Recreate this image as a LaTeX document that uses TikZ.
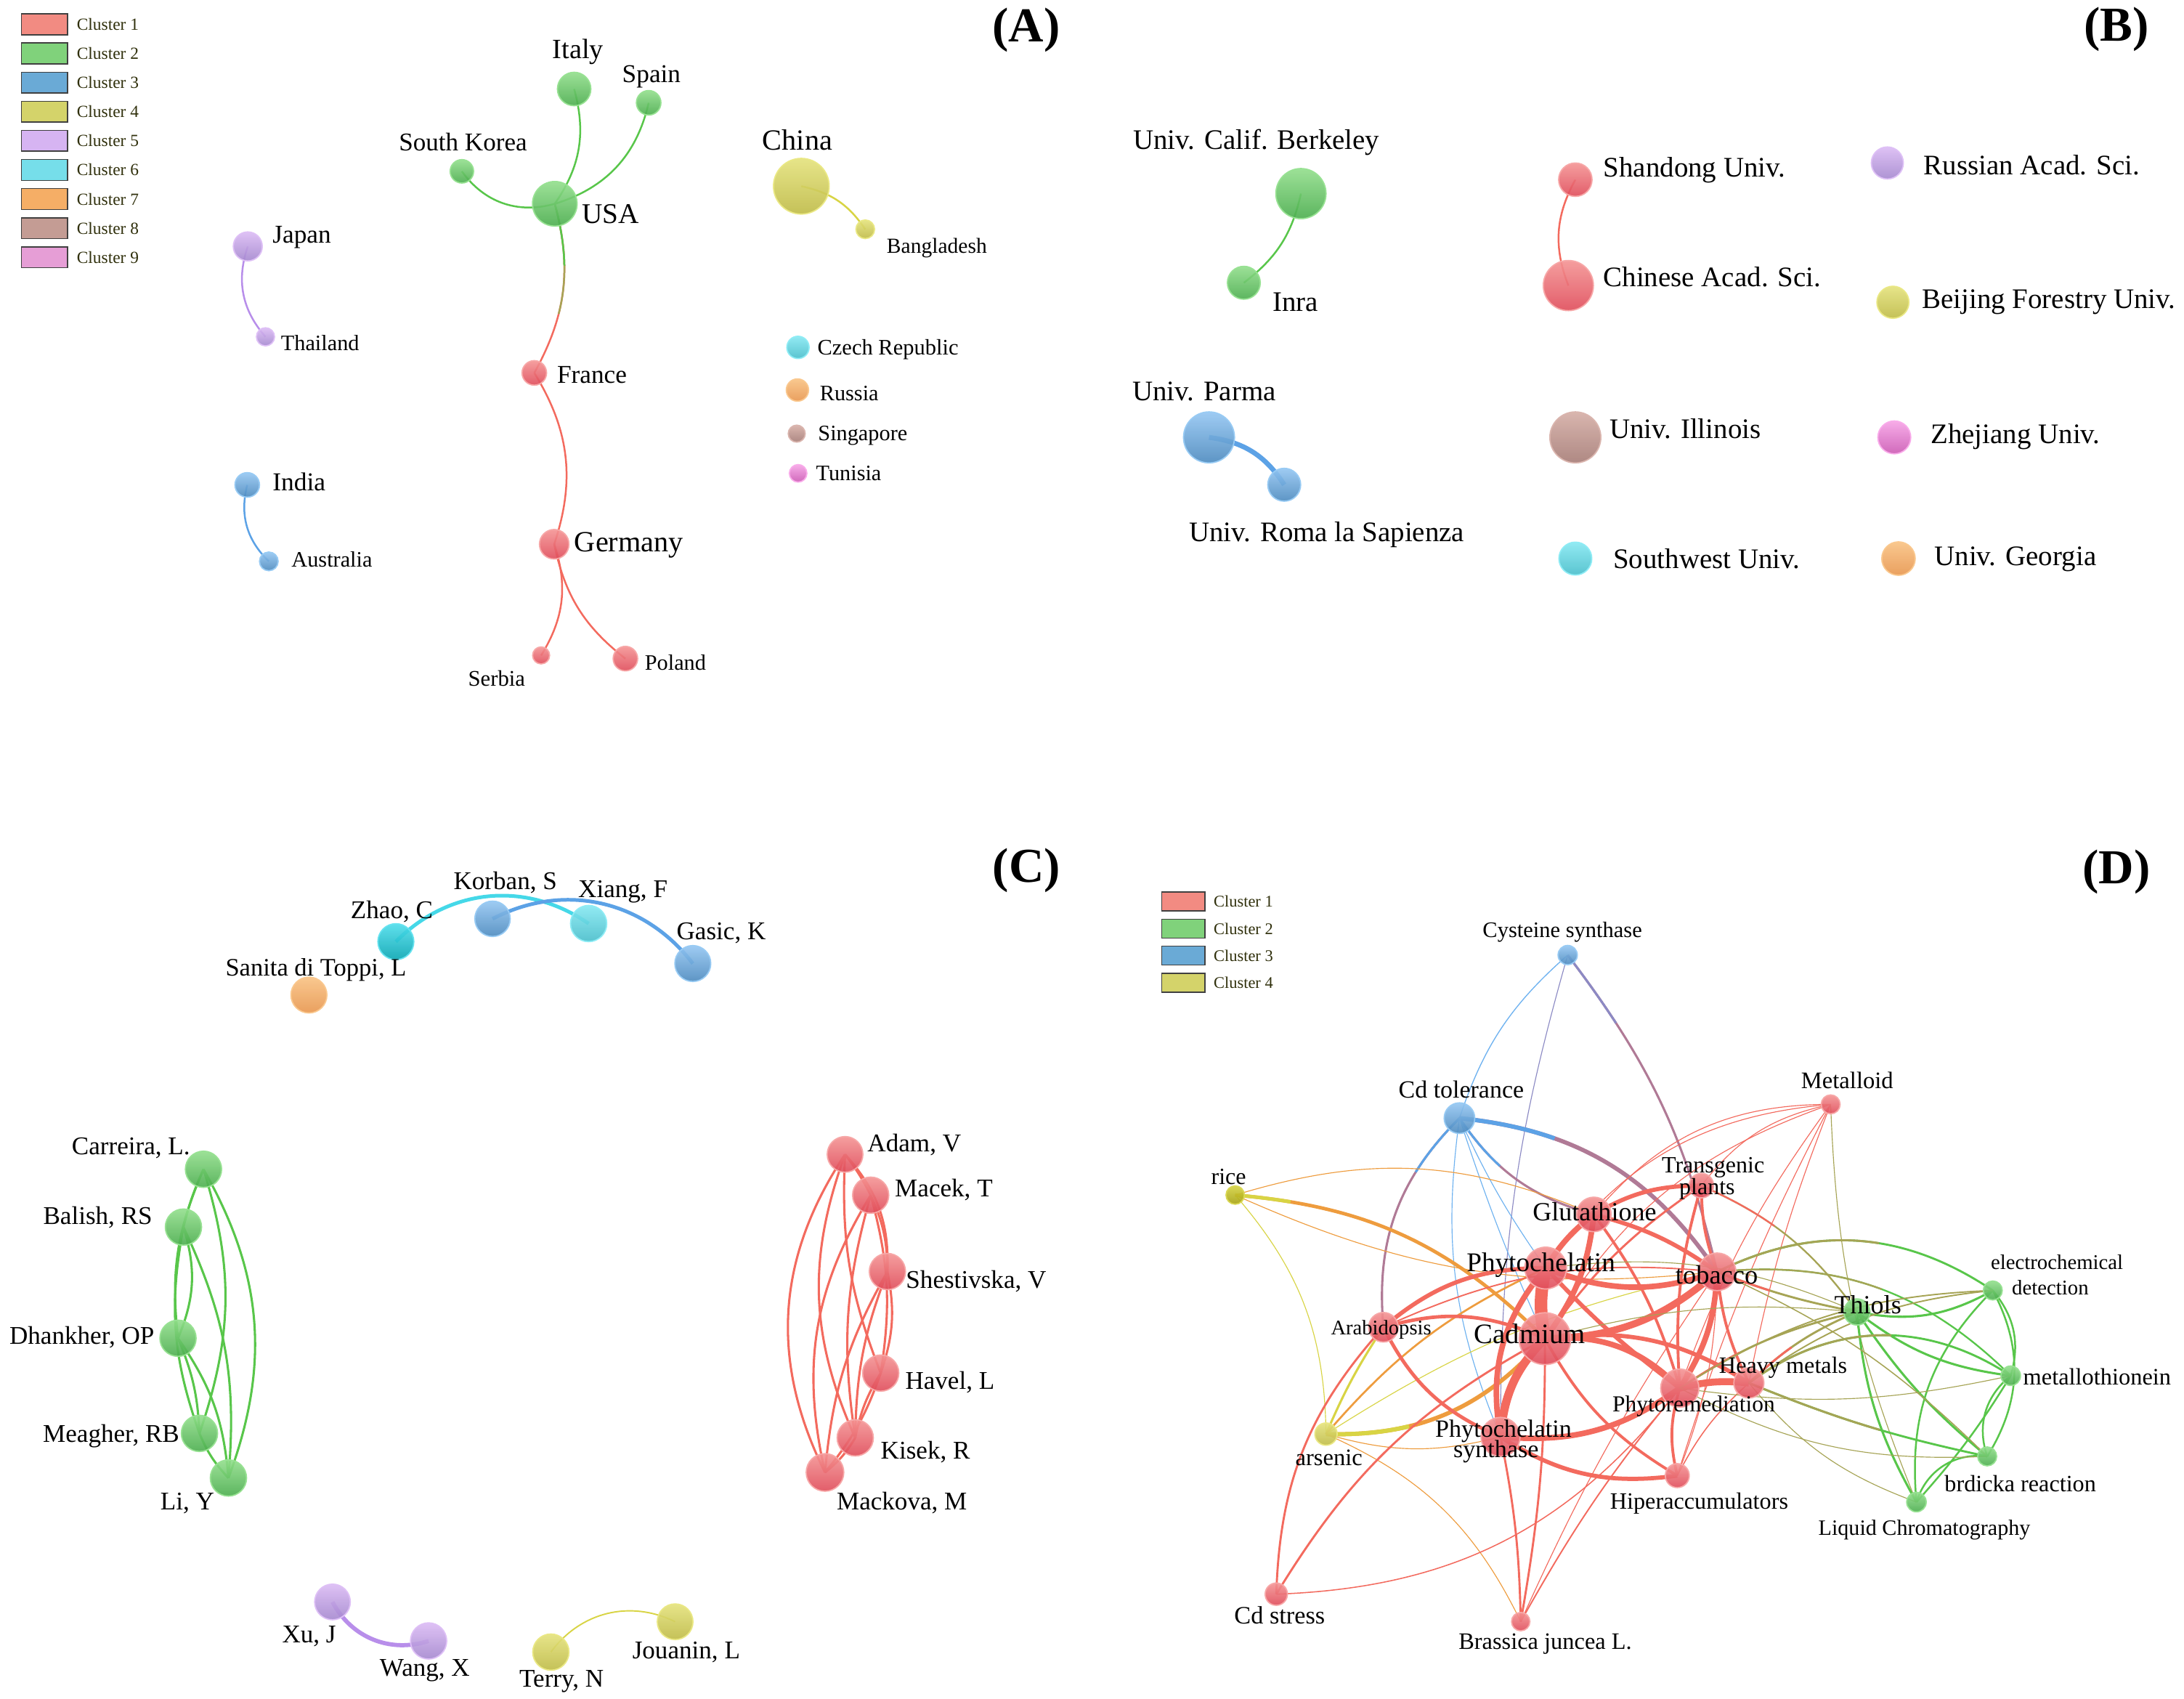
\documentclass[tikz,border=0pt]{standalone}
\usepackage{fontspec}
\setmainfont{Liberation Serif}
\pgfdeclarelayer{bg}
\pgfdeclarelayer{edges}
\pgfsetlayers{bg,edges,main}
% node colours
\definecolor{rT}{HTML}{F49494}\definecolor{rB}{HTML}{E04C5A}\definecolor{rE}{HTML}{F7A8A8}
\definecolor{gT}{HTML}{92DE8C}\definecolor{gB}{HTML}{4BAE4E}\definecolor{gE}{HTML}{98E293}
\definecolor{bT}{HTML}{94C6F2}\definecolor{bB}{HTML}{4C8ABF}\definecolor{bE}{HTML}{98CBF4}
\definecolor{yT}{HTML}{E4E27C}\definecolor{yB}{HTML}{BFBB46}\definecolor{yE}{HTML}{EAE884}
\definecolor{pT}{HTML}{DBBBF4}\definecolor{pB}{HTML}{A588CF}\definecolor{pE}{HTML}{DEC0F6}
\definecolor{cT}{HTML}{86E8F2}\definecolor{cB}{HTML}{48BECB}\definecolor{cE}{HTML}{8EECF5}
\definecolor{dcT}{HTML}{4EDDEB}\definecolor{dcB}{HTML}{08A6B3}\definecolor{dcE}{HTML}{66E3F0}
\definecolor{oT}{HTML}{F9C283}\definecolor{oB}{HTML}{E8964E}\definecolor{oE}{HTML}{FAC88E}
\definecolor{brT}{HTML}{D5AEA6}\definecolor{brB}{HTML}{A67C76}\definecolor{brE}{HTML}{DAB5AE}
\definecolor{pkT}{HTML}{F6A3E6}\definecolor{pkB}{HTML}{CC5AB4}\definecolor{pkE}{HTML}{F9ABEA}
\definecolor{riT}{HTML}{D4D242}\definecolor{riB}{HTML}{A6A210}\definecolor{riE}{HTML}{DAD855}
% edge colours
\definecolor{eRed}{HTML}{F36A5E}\definecolor{eGreen}{HTML}{58C64A}\definecolor{eBlue}{HTML}{5CA2E6}
\definecolor{eCyan}{HTML}{45D8E8}\definecolor{ePur}{HTML}{B88EEA}\definecolor{eYel}{HTML}{D8D444}
\definecolor{eOr}{HTML}{EE9C3E}\definecolor{eOl}{HTML}{A6A455}\definecolor{eBP}{HTML}{8C8AC4}
\definecolor{ePR}{HTML}{B07A96}\definecolor{eLB}{HTML}{6EB2F0}
% legend colours
\definecolor{Lone}{HTML}{F28B82}\definecolor{Ltwo}{HTML}{80D27B}\definecolor{Lthree}{HTML}{6AAAD6}
\definecolor{Lfour}{HTML}{D4D36A}\definecolor{Lfive}{HTML}{D6B4F2}\definecolor{Lsix}{HTML}{76DEEA}
\definecolor{Lseven}{HTML}{F5AE66}\definecolor{Leight}{HTML}{C49C94}\definecolor{Lnine}{HTML}{E69ED6}
\definecolor{legtext}{HTML}{30300C}
\newcommand\fs[1]{\fontsize{#1}{#1}\selectfont}
\newcommand\conn[4]{\draw[#1] (#2.center) to[#3] (#4.center);}
% gradient-like connector: colour1 for first #3 pt, colour2 after
\newcommand\gconn[7]{\draw[draw=#2,line width=#4] (#5.center) to[#6] (#7.center);
  \draw[draw=#1,line width=#4,dash pattern=on #3pt off 3000pt] (#5.center) to[#6] (#7.center);}
\begin{document}
\begin{tikzpicture}[x=1pt,y=-1pt,
  bub/.style={circle,inner sep=0pt,minimum size=2*#1,line width=0.9pt,fill opacity=0.9},
  nred/.style={bub=#1,top color=rT,bottom color=rB,draw=rE},
  ngreen/.style={bub=#1,top color=gT,bottom color=gB,draw=gE},
  nblue/.style={bub=#1,top color=bT,bottom color=bB,draw=bE},
  nyel/.style={bub=#1,top color=yT,bottom color=yB,draw=yE},
  npur/.style={bub=#1,top color=pT,bottom color=pB,draw=pE},
  ncyan/.style={bub=#1,top color=cT,bottom color=cB,draw=cE},
  ndcyan/.style={bub=#1,top color=dcT,bottom color=dcB,draw=dcE},
  norange/.style={bub=#1,top color=oT,bottom color=oB,draw=oE},
  nbrown/.style={bub=#1,top color=brT,bottom color=brB,draw=brE},
  npink/.style={bub=#1,top color=pkT,bottom color=pkB,draw=pkE},
  nrice/.style={bub=#1,top color=riT,bottom color=riB,draw=riE},
  lab/.style={inner sep=0pt,font=\fs{#1},text=black},
  panel/.style={inner sep=0pt,font=\fs{35}\bfseries,text=black},
  legbox/.style={draw=black!75,line width=0.8pt,minimum width=33pt,minimum height=15pt,inner sep=0pt},
  legboxD/.style={draw=black!75,line width=0.8pt,minimum width=31pt,minimum height=13.6pt,inner sep=0pt},
  legtxt/.style={inner sep=0pt,anchor=west,font=\fs{#1},text=legtext},
  redE/.style={draw=eRed,line width=#1},
  greenE/.style={draw=eGreen,line width=#1},
  blueE/.style={draw=eBlue,line width=#1},
  lblueE/.style={draw=eLB,line width=#1},
  cyanE/.style={draw=eCyan,line width=#1},
  purE/.style={draw=ePur,line width=#1},
  yelE/.style={draw=eYel,line width=#1},
  orE/.style={draw=eOr,line width=#1},
  olE/.style={draw=eOl,line width=#1},
  bpE/.style={draw=eBP,line width=#1},
  prE/.style={draw=ePR,line width=#1}
]
\useasboundingbox (0,0) rectangle (1568,1219.6);
\begin{pgfonlayer}{bg}
\fill[white] (0,0) rectangle (1568,1219.6);
\end{pgfonlayer}

% ================= Panel A =================
\foreach \i/\c in {1/Lone,2/Ltwo,3/Lthree,4/Lfour,5/Lfive,6/Lsix,7/Lseven,8/Leight,9/Lnine}{
  \node[legbox,fill=\c] (la\i) at (32,{17.5+20.9*(\i-1)}) {};
  \node[legtxt=12.2] (lat\i) at (55,{17.5+20.9*(\i-1)}) {Cluster \i};
}
\node[panel] (pA) at (736.9,21.6) {(A)};

\node[ngreen=12] (italy) at (412.2,63.9) {};
\node[ngreen=8.8] (spain) at (465.7,73.8) {};
\node[ngreen=8.4] (skorea) at (331.6,123) {};
\node[ngreen=16] (usa) at (398.3,146.3) {};
\node[nyel=20] (china) at (575.3,133.7) {};
\node[nyel=6.7] (bangl) at (621.2,164.6) {};
\node[npur=10.4] (japan) at (177.9,176.9) {};
\node[npur=6.5] (thai) at (190.6,241.8) {};
\node[nred=8.8] (france) at (383.6,267.7) {};
\node[nblue=8.8] (india) at (177.5,348.1) {};
\node[nblue=6.7] (austr) at (193,403) {};
\node[nred=10.6] (germany) at (397.9,390.7) {};
\node[nred=6.1] (serbia) at (388.5,470.5) {};
\node[nred=8.8] (poland) at (449,472.8) {};
\node[ncyan=8] (czech) at (572.9,249.4) {};
\node[norange=8] (russia) at (572.5,280) {};
\node[nbrown=6.1] (singa) at (572,311.3) {};
\node[npink=6.3] (tunis) at (573,339.8) {};

\node[lab=20] (tItaly) at (415,37.2) {Italy};
\node[lab=18.4] (tSpain) at (467.7,55) {Spain};
\node[lab=18.3] (tSK) at (332.4,102) {South Korea};
\node[lab=20.5] (tUSA) at (438.4,153.6) {USA};
\node[lab=21] (tChina) at (572.5,100.4) {China};
\node[lab=15.4] (tBangl) at (672.6,177.9) {Bangladesh};
\node[lab=18.4] (tJapan) at (216.7,170.2) {Japan};
\node[lab=15.8] (tThai) at (229.8,246) {Thailand};
\node[lab=18.4] (tFrance) at (425,269.3) {France};
\node[lab=18.5] (tIndia) at (214.7,345.8) {India};
\node[lab=15.8] (tAustr) at (238.3,401.4) {Australia};
\node[lab=21] (tGermany) at (451.5,391.4) {Germany};
\node[lab=16] (tSerbia) at (356.6,487) {Serbia};
\node[lab=15.8] (tPoland) at (484.9,475.5) {Poland};
\node[lab=15.9] (tCzech) at (637.5,251) {Czech Republic};
\node[lab=15.8] (tRussia) at (609.7,282.6) {Russia};
\node[lab=15.8] (tSinga) at (619.4,312.5) {Singapore};
\node[lab=15.8] (tTunis) at (609.3,339.8) {Tunisia};

\begin{pgfonlayer}{edges}
\conn{greenE=1.3}{usa}{bend right=25}{italy}
\conn{greenE=1.3}{usa}{bend right=30}{spain}
\conn{greenE=1.3}{usa}{bend left=35}{skorea}
\draw[redE=1.3] (usa.center) to[bend left=22] (france.center);
\draw[draw=eOl,line width=1.3pt,dash pattern=on 80pt off 3000pt] (usa.center) to[bend left=22] (france.center);
\draw[draw=eGreen,line width=1.3pt,dash pattern=on 45pt off 3000pt] (usa.center) to[bend left=22] (france.center);
\conn{redE=1.3}{france}{bend left=25}{germany}
\conn{redE=1.3}{germany}{bend left=25}{serbia}
\conn{redE=1.3}{germany}{bend right=20}{poland}
\conn{purE=1.3}{japan}{bend right=30}{thai}
\conn{blueE=1.3}{india}{bend right=30}{austr}
\conn{yelE=1.3}{china}{bend left=22}{bangl}
\end{pgfonlayer}

% ================= Panel B =================
\node[panel] (pB) at (1519.5,21.2) {(B)};
\node[ngreen=18] (berk) at (934,139) {};
\node[ngreen=11.8] (inra) at (893,203) {};
\node[nred=12] (shand) at (1131,129) {};
\node[nred=18] (cas) at (1126,205) {};
\node[npur=11.5] (ras) at (1355,117) {};
\node[nyel=11.5] (bfu) at (1359,217) {};
\node[nblue=18.3] (parma) at (868,314) {};
\node[nblue=11.8] (roma) at (922,348) {};
\node[nbrown=18.3] (illin) at (1131,314) {};
\node[npink=11.8] (zhej) at (1360,314) {};
\node[ncyan=11.8] (swu) at (1131,401) {};
\node[norange=12] (ugeo) at (1363,401) {};

\node[lab=20.3] (tBerk) at (902,102.3) {Univ. Calif. Berkeley};
\node[lab=20.3] (tInra) at (930,217) {Inra};
\node[lab=20.3,anchor=west] (tShand) at (1151,122) {Shandong Univ.};
\node[lab=20.3,anchor=west] (tCas) at (1151,198.7) {Chinese Acad. Sci.};
\node[lab=20.3,anchor=west] (tRas) at (1381,118.7) {Russian Acad. Sci.};
\node[lab=20.3,anchor=west] (tBfu) at (1379.8,217) {Beijing Forestry Univ.};
\node[lab=20.3] (tParma) at (864.5,281) {Univ. Parma};
\node[lab=20.3] (tRoma) at (952.5,383.8) {Univ. Roma la Sapienza};
\node[lab=20.3,anchor=west] (tIllin) at (1155.4,308) {Univ. Illinois};
\node[lab=20.3,anchor=west] (tZhej) at (1386,313.7) {Zhejiang Univ.};
\node[lab=20.3,anchor=west] (tSwu) at (1158,401.3) {Southwest Univ.};
\node[lab=20.3,anchor=west] (tUgeo) at (1388.7,401.3) {Univ. Georgia};

\begin{pgfonlayer}{edges}
\conn{greenE=1.3}{berk}{bend left=20}{inra}
\conn{redE=1.3}{shand}{bend right=25}{cas}
\conn{blueE=3.5}{parma}{bend left=25}{roma}
\end{pgfonlayer}

% ================= Panel C =================
\node[panel] (pC) at (737,624.8) {(C)};
\node[ndcyan=12.9] (zhao) at (284.2,676) {};
\node[nblue=12.7] (korban) at (353.6,659.6) {};
\node[ncyan=13] (xiang) at (422.6,663) {};
\node[nblue=12.9] (gasic) at (497.4,691.7) {};
\node[norange=12.9] (sanita) at (221.8,714.3) {};
\node[lab=18.3] (tZhao) at (281.3,654.3) {Zhao, C};
\node[lab=18.3] (tKorban) at (362.8,633.5) {Korban, S};
\node[lab=18.3] (tXiang) at (447.2,640.4) {Xiang, F};
\node[lab=18.3] (tGasic) at (517.8,670) {Gasic, K};
\node[lab=18] (tSanita) at (226.8,696) {Sanita di Toppi, L};

\node[ngreen=13] (carr) at (146.1,839.4) {};
\node[ngreen=13] (bal) at (131.7,880.9) {};
\node[ngreen=13] (dhan) at (127.8,960.7) {};
\node[ngreen=13] (meag) at (143.2,1029) {};
\node[ngreen=13] (liy) at (164,1061) {};
\node[lab=18.3] (tCarr) at (94,824.2) {Carreira, L.};
\node[lab=18.3] (tBal) at (70.2,874.2) {Balish, RS};
\node[lab=18.3] (tDhan) at (58.8,959.8) {Dhankher, OP};
\node[lab=18.3] (tMeag) at (79.8,1031.2) {Meagher, RB};
\node[lab=18.3] (tLiy) at (134.5,1079) {Li, Y};

\node[nred=12.8] (adam) at (606.7,828.7) {};
\node[nred=13] (macek) at (625.1,858) {};
\node[nred=13] (shest) at (637.1,912.8) {};
\node[nred=13] (havel) at (632.3,985.7) {};
\node[nred=13] (kisek) at (614,1032.2) {};
\node[nred=13.5] (mack) at (592.3,1057) {};
\node[lab=18.3] (tAdam) at (656.4,822) {Adam, V};
\node[lab=18.3] (tMacek) at (677.6,854) {Macek, T};
\node[lab=18.3] (tShest) at (700.8,920) {Shestivska, V};
\node[lab=18.3] (tHavel) at (682,992.2) {Havel, L};
\node[lab=18.3] (tKisek) at (664.4,1042.3) {Kisek, R};
\node[lab=18.3] (tMack) at (647.5,1079) {Mackova, M};

\node[npur=12.8] (xuj) at (238.7,1150) {};
\node[npur=13] (wangx) at (307.7,1178) {};
\node[nyel=13] (terry) at (395.5,1186) {};
\node[nyel=12.8] (jouan) at (484.7,1164.2) {};
\node[lab=18.3] (tXuj) at (221.9,1174.8) {Xu, J};
\node[lab=18.3] (tWangx) at (305,1199.3) {Wang, X};
\node[lab=18.3] (tTerry) at (403.2,1207.2) {Terry, N};
\node[lab=18.3] (tJouan) at (492.7,1186) {Jouanin, L};

\begin{pgfonlayer}{edges}
\conn{cyanE=2.6}{zhao}{bend left=40}{xiang}
\conn{blueE=2.6}{korban}{bend left=40}{gasic}
\conn{purE=3}{xuj}{bend right=40}{wangx}
\conn{yelE=1}{terry}{bend left=40}{jouan}
% green complete graph
\conn{greenE=1.6}{carr}{bend right=5}{bal}
\conn{greenE=1.6}{carr}{bend right=15}{dhan}
\conn{greenE=1.6}{carr}{bend left=18}{meag}
\conn{greenE=1.6}{carr}{bend left=25}{liy}
\conn{greenE=1.6}{bal}{bend left=20}{dhan}
\conn{greenE=1.6}{bal}{bend right=15}{meag}
\conn{greenE=1.6}{bal}{bend left=15}{liy}
\conn{greenE=1.6}{dhan}{bend left=10}{meag}
\conn{greenE=1.6}{dhan}{bend left=15}{liy}
\conn{greenE=1.6}{meag}{bend right=10}{liy}
% red complete graph
\conn{redE=1.6}{adam}{bend left=5}{macek}
\conn{redE=1.6}{adam}{bend left=22}{shest}
\conn{redE=1.6}{adam}{bend right=12}{havel}
\conn{redE=1.6}{adam}{bend right=22}{kisek}
\conn{redE=1.6}{adam}{bend right=30}{mack}
\conn{redE=1.6}{macek}{bend left=12}{shest}
\conn{redE=1.6}{macek}{bend left=12}{havel}
\conn{redE=1.6}{macek}{bend right=12}{kisek}
\conn{redE=1.6}{macek}{bend right=22}{mack}
\conn{redE=1.6}{shest}{bend left=15}{havel}
\conn{redE=1.6}{shest}{bend right=10}{kisek}
\conn{redE=1.6}{shest}{bend right=12}{mack}
\conn{redE=1.6}{havel}{bend right=10}{kisek}
\conn{redE=1.6}{havel}{bend left=10}{mack}
\conn{redE=1.6}{kisek}{bend left=10}{mack}
\end{pgfonlayer}

% ================= Panel D =================
\node[panel] (pD) at (1519.5,626) {(D)};
\foreach \i/\c in {1/Lone,2/Ltwo,3/Lthree,4/Lfour}{
  \node[legboxD,fill=\c] (ld\i) at (849.6,{647.2+19.4*(\i-1)}) {};
  \node[legtxt=11.7] (ldt\i) at (871.2,{647.2+19.4*(\i-1)}) {Cluster \i};
}
\node[nblue=6.9] (cys) at (1125.5,685.6) {};
\node[nblue=11] (cdt) at (1047.8,802.7) {};
\node[nred=6.8] (met) at (1314.3,792.8) {};
\node[nrice=6.6] (rice) at (886.8,857.9) {};
\node[nred=8.8] (tra) at (1221.5,851.1) {};
\node[nred=12.4] (glu) at (1144.3,871.8) {};
\node[nred=15] (phy) at (1109.7,910.3) {};
\node[nred=13.5] (tob) at (1232.8,913) {};
\node[nred=10.6] (ara) at (993.2,952.8) {};
\node[nred=18.6] (cad) at (1109.2,961) {};
\node[ngreen=9.4] (thi) at (1333.2,941.8) {};
\node[ngreen=6.8] (ele) at (1430.7,926.4) {};
\node[nred=10.8] (hm) at (1255.6,992.8) {};
\node[nred=13.7] (pre) at (1206,996.5) {};
\node[ngreen=7] (mtn) at (1443.6,987.6) {};
\node[nred=14] (pcs) at (1077.3,1031.5) {};
\node[nyel=8] (ars) at (952,1029.5) {};
\node[nred=8.6] (hip) at (1204.2,1059.3) {};
\node[ngreen=6.8] (brd) at (1426.7,1045.5) {};
\node[ngreen=7] (lc) at (1375.9,1078.3) {};
\node[nred=8] (cds) at (916.3,1144.4) {};
\node[nred=6.6] (bra) at (1091.8,1164.1) {};

\begin{pgfonlayer}{edges}
% blue cluster
\conn{lblueE=0.7}{cys}{bend right=15}{cdt}
\gconn{eBP}{ePR}{60}{1.6pt}{cys}{bend left=12}{tob}
\conn{bpE=0.6}{cys}{bend right=8}{pcs}
\gconn{eBlue}{ePR}{70}{3pt}{cdt}{bend left=25}{tob}
\gconn{eBlue}{ePR}{45}{1.6pt}{cdt}{bend right=20}{glu}
\gconn{eBlue}{ePR}{50}{1.6pt}{cdt}{bend right=25}{ara}
\conn{lblueE=0.6}{cdt}{bend right=5}{phy}
\conn{lblueE=0.6}{cdt}{bend right=3}{cad}
\conn{lblueE=0.6}{cdt}{bend right=15}{pcs}
% yellow cluster
\gconn{eYel}{eOr}{40}{2.5pt}{rice}{bend left=20}{cad}
\conn{yelE=0.6}{rice}{bend left=20}{ars}
\conn{orE=0.6}{rice}{bend left=20}{glu}
\conn{orE=0.6}{rice}{bend right=15}{tob}
\gconn{eYel}{eOr}{60}{3pt}{ars}{bend right=25}{cad}
\conn{yelE=1.6}{ars}{bend left=5}{ara}
\conn{orE=1.4}{ars}{bend left=12}{phy}
\conn{orE=0.6}{ars}{bend right=15}{pcs}
\conn{orE=0.6}{ars}{bend left=20}{bra}
\conn{yelE=0.6}{ars}{bend left=10}{tob}
% red cluster
\conn{redE=9}{cad}{bend left=12}{phy}
\conn{redE=4}{cad}{bend right=15}{glu}
\conn{redE=5}{cad}{bend right=20}{tob}
\conn{redE=4}{cad}{bend left=25}{pre}
\conn{redE=6}{cad}{bend right=20}{pcs}
\conn{redE=4}{phy}{bend right=25}{pcs}
\conn{redE=4}{phy}{bend left=10}{glu}
\conn{redE=4}{phy}{bend right=20}{tob}
\conn{redE=3}{glu}{bend left=10}{tob}
\conn{redE=3}{glu}{bend left=15}{tra}
\conn{redE=2}{tob}{bend left=10}{tra}
\conn{redE=4}{tob}{bend left=15}{pre}
\conn{redE=5}{pre}{bend left=10}{hm}
\conn{redE=4}{pcs}{bend right=20}{pre}
\conn{redE=3}{cad}{bend left=20}{hm}
\conn{redE=2.5}{ara}{bend left=20}{cad}
\conn{redE=3}{ara}{bend left=20}{phy}
\conn{redE=2}{glu}{bend left=10}{pre}
\conn{redE=3}{phy}{bend right=5}{pre}
\conn{redE=2}{tob}{bend right=10}{hm}
\conn{redE=2}{pre}{bend right=15}{hip}
\conn{redE=3}{pcs}{bend right=20}{hip}
\conn{redE=2}{cad}{bend right=15}{hip}
\conn{redE=2.5}{ara}{bend right=20}{pcs}
\conn{redE=1}{ara}{bend left=15}{tob}
\conn{redE=1.5}{cds}{bend left=15}{cad}
\conn{redE=1.5}{cds}{bend left=20}{ara}
\conn{redE=0.8}{cds}{bend right=25}{pre}
\conn{redE=1.5}{bra}{bend right=5}{pcs}
\conn{redE=1.5}{bra}{bend right=5}{cad}
\conn{redE=1}{bra}{bend left=5}{pre}
\conn{redE=0.6}{bra}{bend left=5}{tob}
\conn{redE=0.6}{met}{bend right=25}{phy}
\conn{redE=0.6}{met}{bend right=25}{glu}
\conn{redE=0.6}{met}{bend right=20}{tra}
\conn{redE=0.6}{met}{bend right=20}{cad}
\conn{redE=0.6}{met}{bend right=8}{pre}
\conn{redE=0.6}{met}{bend right=5}{hm}
\conn{redE=0.6}{met}{bend right=5}{hip}
\conn{olE=0.6}{met}{bend right=10}{lc}
\conn{redE=2}{tra}{bend right=10}{pre}
\conn{redE=1.5}{tra}{bend right=10}{cad}
\conn{redE=0.8}{hm}{bend right=10}{hip}
\conn{redE=0.6}{hip}{bend right=10}{tob}
% green cluster
\conn{greenE=1.6}{thi}{bend right=20}{ele}
\conn{greenE=1.6}{thi}{bend right=15}{mtn}
\conn{greenE=1.6}{thi}{bend right=8}{brd}
\conn{greenE=1.6}{thi}{bend right=12}{lc}
\conn{greenE=1.3}{ele}{bend left=28}{mtn}
\conn{greenE=1.3}{ele}{bend left=30}{brd}
\conn{greenE=1.3}{ele}{bend right=25}{lc}
\conn{greenE=1.3}{mtn}{bend right=35}{brd}
\conn{greenE=1.3}{mtn}{bend left=5}{lc}
\conn{greenE=1.3}{brd}{bend right=40}{lc}
% cross-cluster
\gconn{eRed}{eOl}{40}{1.5pt}{tob}{bend right=5}{thi}
\gconn{eOl}{eGreen}{120}{1.5pt}{tob}{bend left=30}{ele}
\gconn{eOl}{eGreen}{120}{1.2pt}{tob}{bend left=25}{mtn}
\conn{olE=0.8}{tob}{bend left=10}{brd}
\gconn{eRed}{eOl}{40}{1.5pt}{hm}{bend left=10}{thi}
\conn{olE=1}{hm}{bend left=15}{ele}
\gconn{eOl}{eGreen}{110}{1.5pt}{hm}{bend left=35}{mtn}
\gconn{eOl}{eGreen}{100}{1.5pt}{hm}{bend right=5}{brd}
\conn{olE=0.6}{hm}{bend right=15}{lc}
\gconn{eRed}{eOl}{50}{1.5pt}{pre}{bend left=10}{thi}
\conn{olE=1}{pre}{bend left=15}{ele}
\conn{olE=0.6}{pre}{bend right=10}{mtn}
\gconn{eRed}{eOl}{60}{1.2pt}{tra}{bend left=15}{thi}
\conn{olE=0.6}{cad}{bend left=10}{thi}
\conn{olE=0.6}{phy}{bend left=15}{thi}
\conn{olE=0.6}{pre}{bend right=15}{brd}
\end{pgfonlayer}

\node[lab=15.9] (tCys) at (1121.7,669.1) {Cysteine synthase};
\node[lab=17.7] (tCdt) at (1049.1,782) {Cd tolerance};
\node[lab=17] (tMet) at (1326.2,775.4) {Metalloid};
\node[lab=16.7] (tRice) at (882.1,845) {rice};
\node[lab=16.7] (tTra1) at (1229.9,838) {Transgenic};
\node[lab=16.7] (tTra2) at (1225.6,853.3) {plants};
\node[lab=18.8] (tGlu) at (1144.8,869.7) {Glutathione};
\node[lab=19.4] (tPhy) at (1106.3,908.2) {Phytochelatin};
\node[lab=19] (tTob) at (1232.5,915) {tobacco};
\node[lab=14.9] (tAra) at (991.6,954.8) {Arabidopsis};
\node[lab=20.2] (tCad) at (1098.3,957.3) {Cadmium};
\node[lab=18.8] (tThi) at (1341,936.7) {Thiols};
\node[lab=15] (tEle1) at (1476.8,906.2) {electrochemical};
\node[lab=15] (tEle2) at (1472,924.3) {detection};
\node[lab=16.8] (tHm) at (1280.2,982) {Heavy metals};
\node[lab=16.4] (tPre) at (1216,1009.4) {Phytoremediation};
\node[lab=16.9] (tMtn) at (1505.6,988.2) {metallothionein};
\node[lab=17.8] (tPcs1) at (1079.4,1027.4) {Phytochelatin};
\node[lab=17.8] (tPcs2) at (1074.1,1042.2) {synthase};
\node[lab=17] (tArs) at (954.1,1046.3) {arsenic};
\node[lab=16.8] (tHip) at (1219.9,1079.2) {Hiperaccumulators};
\node[lab=16.8] (tBrd) at (1450.5,1064.9) {brdicka reaction};
\node[lab=15.7] (tLc) at (1381.6,1098.5) {Liquid Chromatography};
\node[lab=17.9] (tCds) at (918.7,1159.6) {Cd stress};
\node[lab=16.9] (tBra) at (1109.4,1180) {Brassica juncea L.};
\end{tikzpicture}
\end{document}
